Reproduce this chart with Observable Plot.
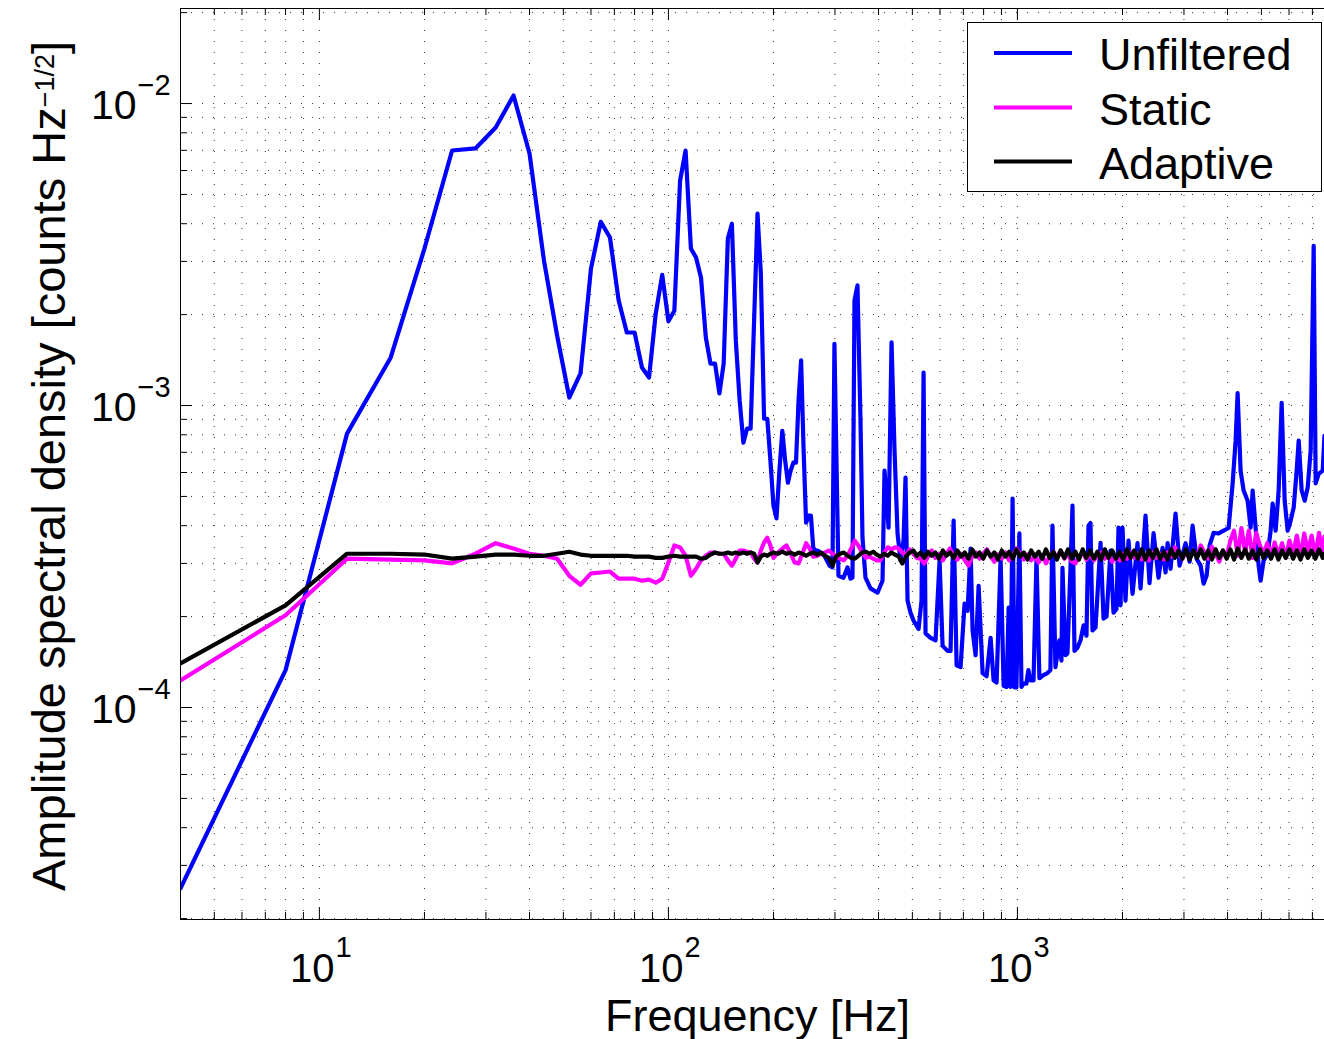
<!DOCTYPE html>
<html><head><meta charset="utf-8">
<script src="https://cdn.jsdelivr.net/npm/d3@7"></script>
<script src="https://cdn.jsdelivr.net/npm/@observablehq/plot@0.6"></script>
<style>html,body{margin:0;padding:0;background:#fff}</style>
</head><body><div id="chart"></div>
<script>
// ---------- DATA (frequency in Hz, ASD in counts Hz^-1/2) ----------
const unfLowFreq = [4,8,12,16,20,24,28,32,36,40, 44,48,52,56,60,64,68,72,76,80,
  84,88,92,96,100,104,108,112,116,120, 124,128,132,136,140,144,148,152,156,160,
  164,168,172,176,180,184,188,192,196,200, 204,208,212,216,220,224,228,232,236,240,
  244,248,252,256,260,264,268];
const unfLowASD = [2.52e-5,1.33e-4,8.07e-4,1.44e-3,3.31e-3,6.99e-3,7.10e-3,8.33e-3,1.063e-2,6.83e-3,
  3.02e-3,1.70e-3,1.063e-3,1.277e-3,2.84e-3,4.06e-3,3.60e-3,2.23e-3,1.745e-3,1.745e-3,
  1.336e-3,1.238e-3,2.02e-3,2.71e-3,1.90e-3,2.06e-3,5.56e-3,6.99e-3,3.31e-3,3.09e-3,
  2.65e-3,1.68e-3,1.377e-3,1.377e-3,1.096e-3,1.377e-3,3.57e-3,4.00e-3,1.64e-3,1.04e-3,
  7.53e-4,8.38e-4,8.38e-4,1.91e-3,4.32e-3,2.74e-3,9.04e-4,9.04e-4,6.57e-4,4.66e-4,
  4.23e-4,6.09e-4,8.25e-4,6.57e-4,5.55e-4,6.09e-4,6.47e-4,6.47e-4,1.04e-3,1.41e-3,
  7.09e-4,4.09e-4,4.32e-4,4.32e-4,3.38e-4,3.31e-4,3.31e-4];
// unfiltered above 270 Hz: [frequency, ASD]
const unfHigh = [[279.9,3.18e-4],[289.4,2.95e-4],[295.2,2.91e-4],[299.0,1.60e-3],[307.1,2.73e-4],
  [317.4,2.69e-4],[325.9,2.91e-4],[332.4,2.67e-4],[336.8,2.69e-4],[341.3,2.23e-3],[348.1,2.50e-3],
  [355.1,8.90e-4],[359.8,3.65e-4],[367.0,2.69e-4],[379.3,2.48e-4],[397.3,2.40e-4],[410.6,2.63e-4],
  [416.1,6.09e-4],[427.3,3.94e-4],[435.8,1.62e-3],[444.5,7.09e-4],[453.4,3.77e-4],[462.4,3.07e-4],
  [471.7,3.57e-4],[477.9,5.77e-4],[484.3,2.26e-4],[494.0,2.06e-4],[503.9,1.94e-4],[520.8,1.82e-4],
  [531.2,2.26e-4],[538.3,1.285e-3],[545.4,1.76e-4],[563.7,1.70e-4],[582.6,1.67e-4],[598.3,3.07e-4],
  [610.3,1.60e-4],[630.8,1.54e-4],[643.3,1.54e-4],[656.3,4.16e-4],[669.4,1.38e-4],[687.2,1.36e-4],
  [705.6,2.21e-4],[719.8,2.09e-4],[734.1,3.36e-4],[743.9,1.80e-4],[758.7,1.49e-4],[774.0,2.53e-4],
  [794.7,1.30e-4],[815.9,1.27e-4],[837.7,1.70e-4],[854.6,1.23e-4],[871.6,1.21e-4],[894.9,3.13e-4],
  [912.9,1.18e-4],[931.1,1.17e-4],[943.6,2.14e-4],[956.0,1.17e-4],[968.4,4.92e-4],[981,1.165e-4],
  [993.4,1.165e-4],[1013,3.77e-4],[1027,1.17e-4],[1040,1.20e-4],[1061,1.20e-4],[1075,1.33e-4],
  [1090,1.23e-4],[1112,1.23e-4],[1134,3.13e-4],[1156,1.25e-4],[1187,1.28e-4],[1219,1.30e-4],
  [1243,1.33e-4],[1260,4.00e-4],[1285,1.36e-4],[1319,1.67e-4],[1337,1.43e-4],[1346,2.90e-4],
  [1373,1.49e-4],[1391,1.51e-4],[1419,2.90e-4],[1438,4.66e-4],[1457,1.54e-4],[1487,1.58e-4],
  [1516,1.67e-4],[1547,1.87e-4],[1577,1.73e-4],[1598,4.00e-4],[1619,4.08e-4],[1641,1.80e-4],
  [1674,1.84e-4],[1730,3.51e-4],[1765,1.97e-4],[1800,2.00e-4],[1848,3.31e-4],[1885,2.06e-4],
  [1922,2.12e-4],[1948,3.94e-4],[1974,2.18e-4],[2000,3.94e-4],[2040,2.26e-4],[2081,3.57e-4],
  [2137,2.38e-4],[2208,3.50e-4],[2253,2.48e-4],[2328,4.32e-4],[2390,2.58e-4],[2455,3.78e-4],
  [2537,2.69e-4],[2605,3.38e-4],[2657,2.80e-4],[2693,3.50e-4],[2746,2.88e-4],[2838,4.39e-4],
  [2914,2.95e-4],[3032,3.50e-4],[3114,3.04e-4],[3176,4.00e-4],[3261,3.11e-4],[3348,2.95e-4],
  [3415,2.57e-4],[3483,2.73e-4],[3553,3.44e-4],[3648,3.79e-4],[3770,3.77e-4],[3897,3.85e-4],
  [4028,3.93e-4],[4136,5.52e-4],[4218,7.65e-4],[4274,1.10e-3],[4359,6.09e-4],[4447,5.23e-4],
  [4566,4.84e-4],[4657,3.94e-4],[4719,5.23e-4],[4813,3.94e-4],[4910,2.95e-4],[4975,2.63e-4],
  [5075,3.07e-4],[5211,3.23e-4],[5314,3.85e-4],[5385,4.73e-4],[5493,3.85e-4],[5603,5.23e-4],
  [5715,1.02e-3],[5830,4.84e-4],[5947,3.85e-4],[6065,4.16e-4],[6187,4.59e-4],[6310,6.09e-4],
  [6395,7.65e-4],[6522,5.23e-4],[6652,4.84e-4],[6786,5.35e-4],[6921,7.09e-4],[7060,3.38e-3],
  [7153,5.52e-4],[7297,5.94e-4],[7492,6.09e-4],[7580,7.94e-4]];

const lowFreq = [4,8,12,16,20,24,28,32,36,40, 44,48,52,56,60,64,68,72,76,80,
  84,88,92,96,100,104,108,112,116,120, 124,128,132,136,140,144,148,152,156,160,
  164,168,172,176,180,184,188,192,196,200];
const staticLow = [1.23e-4,2.02e-4,3.11e-4,3.09e-4,3.07e-4,3.00e-4,3.23e-4,3.50e-4,3.36e-4,3.23e-4,
  3.18e-4,3.11e-4,2.73e-4,2.55e-4,2.78e-4,2.80e-4,2.82e-4,2.67e-4,2.67e-4,2.67e-4,
  2.63e-4,2.65e-4,2.59e-4,2.67e-4,3.02e-4,3.44e-4,3.39e-4,3.18e-4,2.73e-4,2.88e-4,
  3.07e-4,3.18e-4,3.26e-4,3.26e-4,3.23e-4,3.23e-4,3.07e-4,2.95e-4,3.11e-4,3.31e-4,
  3.31e-4,3.28e-4,3.26e-4,3.11e-4,3.02e-4,3.31e-4,3.52e-4,3.65e-4,3.44e-4,3.13e-4];
const adaptiveLow = [1.40e-4,2.18e-4,3.23e-4,3.23e-4,3.21e-4,3.11e-4,3.16e-4,3.21e-4,3.21e-4,3.18e-4,
  3.18e-4,3.23e-4,3.28e-4,3.21e-4,3.18e-4,3.18e-4,3.18e-4,3.18e-4,3.18e-4,3.16e-4,
  3.16e-4,3.16e-4,3.13e-4,3.13e-4,3.16e-4,3.18e-4,3.16e-4,3.16e-4,3.16e-4,3.16e-4,
  3.11e-4,3.13e-4,3.21e-4,3.26e-4,3.23e-4,3.23e-4,3.26e-4,3.23e-4,3.26e-4,3.23e-4,
  3.26e-4,3.23e-4,3.26e-4,3.23e-4,3.02e-4,3.16e-4,3.21e-4,3.18e-4,3.23e-4,3.26e-4];

const hiFreq = [206,212,218,224,230,236,242,248,254,260,
  267,274,281,288,295,302,310,318,326,334,
  342,350,359,368,377,386,395,405,415,425,
  435,446,457,468,479,491,503,515,528,541,
  554,568,582,596,611,626,641,657,673,690,
  707,724,742,760,779,798,818,838,859,880,
  902,924,947,970,994,1018,1043,1069,1095,1122,
  1150,1178,1207,1237,1267,1298,1330,1363,1396,1430,
  1465,1501,1538,1576,1615,1655,1695,1737,1780,1824,
  1869,1915,1962,2010,2060,2110,2162,2215,2270,2326,
  2383,2442,2502,2564,2627,2692,2758,2826,2896,2967,
  3040,3115,3192,3271,3352,3435,3520,3607,3696,3787,
  3880,3976,4074,4175,4278,4383,4491,4602,4716,4832,
  4951,5073,5198,5326,5458,5593,5731,5872,6017,6165,
  6317,6473,6633,6797,6965,7137,7313,7494,7580];
const adaptiveHi = [3.23e-4,3.28e-4,3.23e-4,3.26e-4,3.21e-4,3.26e-4,3.23e-4,3.18e-4,3.23e-4,3.26e-4,
  3.21e-4,3.26e-4,3.18e-4,3.13e-4,2.95e-4,3.16e-4,3.23e-4,3.26e-4,3.18e-4,3.13e-4,
  3.11e-4,3.18e-4,3.26e-4,3.28e-4,3.23e-4,3.28e-4,3.21e-4,3.16e-4,3.23e-4,3.18e-4,
  3.26e-4,3.21e-4,3.16e-4,3.00e-4,3.16e-4,3.26e-4,3.31e-4,3.18e-4,3.26e-4,3.13e-4,
  3.28e-4,3.18e-4,3.26e-4,3.11e-4,3.31e-4,3.18e-4,3.26e-4,3.13e-4,3.31e-4,3.16e-4,
  3.26e-4,3.11e-4,3.34e-4,3.16e-4,3.26e-4,3.11e-4,3.31e-4,3.16e-4,3.26e-4,3.09e-4,
  3.31e-4,3.16e-4,3.28e-4,3.11e-4,3.34e-4,3.16e-4,3.26e-4,3.09e-4,3.31e-4,3.16e-4,
  3.28e-4,3.11e-4,3.34e-4,3.13e-4,3.28e-4,3.09e-4,3.31e-4,3.13e-4,3.34e-4,3.11e-4,
  3.28e-4,3.09e-4,3.34e-4,3.13e-4,3.31e-4,3.11e-4,3.28e-4,3.09e-4,3.34e-4,3.13e-4,
  3.31e-4,3.11e-4,3.28e-4,3.09e-4,3.34e-4,3.13e-4,3.31e-4,3.11e-4,3.34e-4,3.09e-4,
  3.31e-4,3.13e-4,3.34e-4,3.11e-4,3.28e-4,3.09e-4,3.34e-4,3.13e-4,3.31e-4,3.11e-4,
  3.34e-4,3.09e-4,3.31e-4,3.13e-4,3.34e-4,3.11e-4,3.31e-4,3.09e-4,3.34e-4,3.13e-4,
  3.31e-4,3.11e-4,3.34e-4,3.09e-4,3.36e-4,3.13e-4,3.34e-4,3.11e-4,3.31e-4,3.09e-4,
  3.34e-4,3.13e-4,3.31e-4,3.11e-4,3.34e-4,3.09e-4,3.31e-4,3.13e-4,3.34e-4,3.11e-4,
  3.31e-4,3.09e-4,3.34e-4,3.13e-4,3.31e-4,3.11e-4,3.34e-4,3.13e-4,3.23e-4];
const staticHi = [3.26e-4,3.36e-4,3.44e-4,3.23e-4,3.02e-4,3.00e-4,3.23e-4,3.50e-4,3.36e-4,3.16e-4,
  3.18e-4,3.23e-4,3.26e-4,3.31e-4,3.23e-4,3.18e-4,3.11e-4,3.07e-4,3.18e-4,3.36e-4,
  3.57e-4,3.44e-4,3.26e-4,3.13e-4,3.16e-4,3.11e-4,3.07e-4,3.07e-4,3.26e-4,3.39e-4,
  3.34e-4,3.39e-4,3.36e-4,3.26e-4,3.18e-4,3.34e-4,3.23e-4,3.13e-4,3.11e-4,3.00e-4,
  3.16e-4,3.31e-4,3.13e-4,3.23e-4,3.07e-4,3.23e-4,3.36e-4,3.16e-4,3.09e-4,3.23e-4,
  3.07e-4,2.95e-4,3.16e-4,3.26e-4,3.11e-4,3.23e-4,3.34e-4,3.16e-4,3.04e-4,3.21e-4,
  3.11e-4,3.26e-4,3.07e-4,3.18e-4,3.36e-4,3.23e-4,3.09e-4,3.21e-4,3.07e-4,3.16e-4,
  3.02e-4,3.18e-4,3.00e-4,3.16e-4,3.28e-4,3.13e-4,3.31e-4,3.11e-4,3.23e-4,3.04e-4,
  3.00e-4,3.16e-4,3.26e-4,3.09e-4,3.21e-4,3.07e-4,3.18e-4,3.26e-4,3.11e-4,3.21e-4,
  3.04e-4,3.16e-4,3.07e-4,3.23e-4,3.11e-4,3.26e-4,3.13e-4,3.23e-4,3.09e-4,3.18e-4,
  3.07e-4,3.26e-4,3.13e-4,3.23e-4,3.09e-4,3.26e-4,3.16e-4,3.39e-4,3.23e-4,3.11e-4,
  3.26e-4,3.13e-4,3.28e-4,3.16e-4,3.44e-4,3.26e-4,3.11e-4,3.41e-4,3.23e-4,3.04e-4,
  3.31e-4,3.16e-4,3.57e-4,3.85e-4,3.18e-4,3.93e-4,3.26e-4,3.85e-4,3.13e-4,3.79e-4,
  3.44e-4,3.23e-4,3.50e-4,3.16e-4,3.52e-4,3.18e-4,3.50e-4,3.13e-4,3.57e-4,3.23e-4,
  3.71e-4,3.16e-4,3.77e-4,3.26e-4,3.71e-4,3.16e-4,3.79e-4,3.23e-4,3.68e-4];

const seriesNames = ["Unfiltered", "Static", "Adaptive"];
const seriesColors = ["#0000ff", "#ff00ff", "#000000"];
const xMajor = [10, 100, 1000];
const xMinor = [5,6,7,8,9,20,30,40,50,60,70,80,90,200,300,400,500,600,700,800,900,2000,3000,4000,5000,6000,7000];
const yMajor = [1e-4, 1e-3, 1e-2];
const yMinor = [2e-5,3e-5,4e-5,5e-5,6e-5,7e-5,8e-5,9e-5,2e-4,3e-4,4e-4,5e-4,6e-4,7e-4,8e-4,9e-4,
  2e-3,3e-3,4e-3,5e-3,6e-3,7e-3,8e-3,9e-3,2e-2];
const xLabel = "Frequency [Hz]";

// ---------- BUILD ----------
const unfData = unfLowFreq.map((f, i) => ({f, v: unfLowASD[i]})).concat(unfHigh.map(([f, v]) => ({f, v})));
const staticData = lowFreq.map((f, i) => ({f, v: staticLow[i]})).concat(hiFreq.map((f, i) => ({f, v: staticHi[i]})));
const adaptData = lowFreq.map((f, i) => ({f, v: adaptiveLow[i]})).concat(hiFreq.map((f, i) => ({f, v: adaptiveHi[i]})));

const W = 1324, H = 1039, ML = 180, MR = 0, MT = 8, MB = 120;
const IH = H - MT - MB, IW = W - ML - MR;
const xDomain = [4, 7582], yDomain = [1.986e-5, 2.064e-2];
const FONT = "'Liberation Sans', Arial, Helvetica, sans-serif";
const LW = 4.2;
const grid = {stroke: "#000", strokeOpacity: 0.8, strokeWidth: 1, strokeDasharray: "1,10"};

const svg = Plot.plot({
  width: W, height: H, marginLeft: ML, marginRight: MR, marginTop: MT, marginBottom: MB,
  x: {type: "log", domain: xDomain, axis: null},
  y: {type: "log", domain: yDomain, axis: null},
  style: {fontFamily: FONT, background: "#fff", color: "#000", overflow: "visible"},
  marks: [
    Plot.ruleX(xMajor.concat(xMinor), grid),
    Plot.ruleY(yMajor.concat(yMinor), grid),
    Plot.line(unfData, {x: "f", y: "v", stroke: seriesColors[0], strokeWidth: LW, clip: true}),
    Plot.line(staticData, {x: "f", y: "v", stroke: seriesColors[1], strokeWidth: LW, clip: true}),
    Plot.line(adaptData, {x: "f", y: "v", stroke: seriesColors[2], strokeWidth: LW, clip: true}),
    // inward ticks
    Plot.ruleX(xMajor, {stroke: "#000", insetTop: IH - 12}),
    Plot.ruleX(xMajor, {stroke: "#000", insetBottom: IH - 12}),
    Plot.ruleX(xMinor, {stroke: "#000", insetTop: IH - 7}),
    Plot.ruleX(xMinor, {stroke: "#000", insetBottom: IH - 7}),
    Plot.ruleY(yMajor, {stroke: "#000", insetRight: IW - 12}),
    Plot.ruleY(yMinor, {stroke: "#000", insetRight: IW - 7}),
    // axes box
    Plot.ruleX([xDomain[0]], {stroke: "#000"}),
    Plot.ruleY([yDomain[0]], {stroke: "#000"}),
    Plot.ruleY([yDomain[1]], {stroke: "#000"}),
    // tick labels
    Plot.text(xMajor, {x: d => d, frameAnchor: "bottom", text: () => "10", textAnchor: "end",
      lineAnchor: "bottom", dx: 15, dy: 62, fontSize: 40, fill: "#000"}),
    Plot.text(xMajor, {x: d => d, frameAnchor: "bottom", text: d => String(Math.round(Math.log10(d))),
      textAnchor: "start", lineAnchor: "bottom", dx: 16, dy: 37, fontSize: 29, fill: "#000"}),
    Plot.text(yMajor, {y: d => d, frameAnchor: "left", text: () => "10", textAnchor: "end",
      lineAnchor: "bottom", dx: -44, dy: 15, fontSize: 41, fill: "#000"}),
    Plot.text(yMajor, {y: d => d, frameAnchor: "left", text: d => "\u2212" + Math.round(-Math.log10(d)),
      textAnchor: "start", lineAnchor: "bottom", dx: -43, dy: -9, fontSize: 29, fill: "#000"}),
    Plot.text([xLabel], {frameAnchor: "bottom", text: d => d, textAnchor: "middle", lineAnchor: "bottom",
      dx: 5, dy: 111, fontSize: 45, fill: "#000"})
  ]
});

const g = d3.select(svg);
// y-axis title with superscript
const yt = g.append("text")
  .attr("transform", "translate(65,891) rotate(-90)")
  .attr("text-anchor", "start").attr("font-family", FONT).attr("font-size", 47).attr("fill", "#000");
yt.append("tspan").text("Amplitude spectral density [counts Hz");
yt.append("tspan").attr("font-size", 27).attr("dy", -11).text("\u22121/2");
yt.append("tspan").attr("font-size", 47).attr("dy", 11).text("]");

// legend
const lg = g.append("g").attr("font-family", FONT).attr("text-anchor", "start");
lg.append("rect").attr("x", 967.5).attr("y", 22.5).attr("width", 354).attr("height", 169)
  .attr("fill", "#fff").attr("stroke", "#000").attr("stroke-width", 1);
const rowsY = [53, 107.5, 161.5];
seriesNames.forEach((name, i) => {
  lg.append("line").attr("x1", 994).attr("x2", 1072).attr("y1", rowsY[i]).attr("y2", rowsY[i])
    .attr("stroke", seriesColors[i]).attr("stroke-width", LW);
  lg.append("text").attr("x", 1099).attr("y", rowsY[i] + 17).attr("text-anchor", "start")
    .attr("font-size", 45).attr("fill", "#000").text(name);
});

document.getElementById("chart").appendChild(svg);
</script></body></html>
